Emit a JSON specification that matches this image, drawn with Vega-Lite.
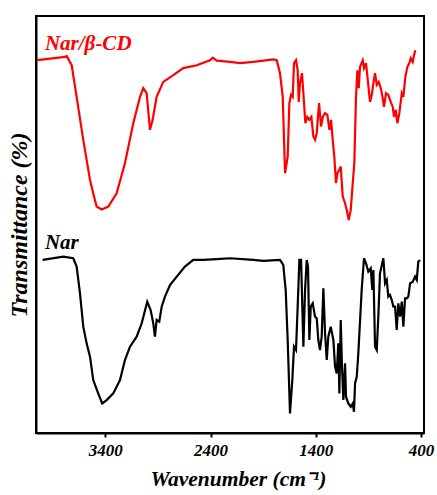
{
  "$schema": "https://vega.github.io/schema/vega-lite/v6.json",
  "width": 388,
  "height": 417,
  "autosize": {"type": "none"},
  "padding": {"left": 36, "top": 16, "right": 13, "bottom": 62},
  "background": "white",
  "config": {
    "view": {"stroke": "black", "strokeWidth": 2},
    "font": "Liberation Serif"
  },
  "datasets": {
    "spectra": [
      {"s":"Nar/β-CD","wn":4046,"t":89.4},{"s":"Nar/β-CD","wn":3783,"t":90.2},{"s":"Nar/β-CD","wn":3767,"t":90.4},{"s":"Nar/β-CD","wn":3719,"t":88.2},{"s":"Nar/β-CD","wn":3672,"t":80.6},{"s":"Nar/β-CD","wn":3609,"t":70.3},{"s":"Nar/β-CD","wn":3545,"t":60.7},{"s":"Nar/β-CD","wn":3510,"t":57.0},{"s":"Nar/β-CD","wn":3482,"t":54.3},{"s":"Nar/β-CD","wn":3434,"t":53.6},{"s":"Nar/β-CD","wn":3371,"t":54.3},{"s":"Nar/β-CD","wn":3292,"t":57.5},{"s":"Nar/β-CD","wn":3213,"t":64.7},{"s":"Nar/β-CD","wn":3134,"t":74.3},{"s":"Nar/β-CD","wn":3070,"t":80.6},{"s":"Nar/β-CD","wn":3039,"t":82.7},{"s":"Nar/β-CD","wn":3007,"t":81.5},{"s":"Nar/β-CD","wn":2975,"t":72.7},{"s":"Nar/β-CD","wn":2950,"t":75.1},{"s":"Nar/β-CD","wn":2912,"t":80.6},{"s":"Nar/β-CD","wn":2849,"t":84.2},{"s":"Nar/β-CD","wn":2754,"t":85.8},{"s":"Nar/β-CD","wn":2659,"t":87.5},{"s":"Nar/β-CD","wn":2531,"t":88.2},{"s":"Nar/β-CD","wn":2405,"t":89.4},{"s":"Nar/β-CD","wn":2379,"t":90.0},{"s":"Nar/β-CD","wn":2341,"t":89.3},{"s":"Nar/β-CD","wn":2215,"t":89.0},{"s":"Nar/β-CD","wn":2120,"t":88.7},{"s":"Nar/β-CD","wn":1994,"t":89.0},{"s":"Nar/β-CD","wn":1803,"t":89.6},{"s":"Nar/β-CD","wn":1771,"t":89.4},{"s":"Nar/β-CD","wn":1740,"t":86.3},{"s":"Nar/β-CD","wn":1714,"t":80.6},{"s":"Nar/β-CD","wn":1702,"t":70.3},{"s":"Nar/β-CD","wn":1692,"t":62.3},{"s":"Nar/β-CD","wn":1667,"t":66.3},{"s":"Nar/β-CD","wn":1651,"t":79.1},{"s":"Nar/β-CD","wn":1635,"t":81.1},{"s":"Nar/β-CD","wn":1619,"t":80.6},{"s":"Nar/β-CD","wn":1607,"t":88.7},{"s":"Nar/β-CD","wn":1588,"t":89.4},{"s":"Nar/β-CD","wn":1572,"t":87.0},{"s":"Nar/β-CD","wn":1562,"t":79.4},{"s":"Nar/β-CD","wn":1550,"t":83.9},{"s":"Nar/β-CD","wn":1531,"t":86.3},{"s":"Nar/β-CD","wn":1518,"t":81.5},{"s":"Nar/β-CD","wn":1499,"t":74.3},{"s":"Nar/β-CD","wn":1480,"t":75.8},{"s":"Nar/β-CD","wn":1461,"t":75.1},{"s":"Nar/β-CD","wn":1442,"t":75.8},{"s":"Nar/β-CD","wn":1423,"t":71.1},{"s":"Nar/β-CD","wn":1407,"t":70.3},{"s":"Nar/β-CD","wn":1391,"t":71.9},{"s":"Nar/β-CD","wn":1369,"t":79.1},{"s":"Nar/β-CD","wn":1350,"t":73.5},{"s":"Nar/β-CD","wn":1334,"t":75.8},{"s":"Nar/β-CD","wn":1312,"t":76.7},{"s":"Nar/β-CD","wn":1290,"t":76.3},{"s":"Nar/β-CD","wn":1271,"t":72.7},{"s":"Nar/β-CD","wn":1255,"t":75.1},{"s":"Nar/β-CD","wn":1239,"t":70.3},{"s":"Nar/β-CD","wn":1224,"t":66.3},{"s":"Nar/β-CD","wn":1208,"t":59.9},{"s":"Nar/β-CD","wn":1195,"t":62.3},{"s":"Nar/β-CD","wn":1176,"t":63.1},{"s":"Nar/β-CD","wn":1163,"t":63.9},{"s":"Nar/β-CD","wn":1144,"t":56.7},{"s":"Nar/β-CD","wn":1122,"t":55.1},{"s":"Nar/β-CD","wn":1106,"t":53.5},{"s":"Nar/β-CD","wn":1087,"t":51.1},{"s":"Nar/β-CD","wn":1068,"t":53.5},{"s":"Nar/β-CD","wn":1049,"t":59.9},{"s":"Nar/β-CD","wn":1034,"t":64.7},{"s":"Nar/β-CD","wn":1018,"t":80.6},{"s":"Nar/β-CD","wn":1005,"t":87.0},{"s":"Nar/β-CD","wn":992,"t":82.7},{"s":"Nar/β-CD","wn":980,"t":87.8},{"s":"Nar/β-CD","wn":954,"t":89.4},{"s":"Nar/β-CD","wn":942,"t":87.5},{"s":"Nar/β-CD","wn":923,"t":88.7},{"s":"Nar/β-CD","wn":906,"t":84.6},{"s":"Nar/β-CD","wn":885,"t":79.4},{"s":"Nar/β-CD","wn":868,"t":81.1},{"s":"Nar/β-CD","wn":853,"t":83.9},{"s":"Nar/β-CD","wn":837,"t":86.3},{"s":"Nar/β-CD","wn":821,"t":83.5},{"s":"Nar/β-CD","wn":802,"t":84.2},{"s":"Nar/β-CD","wn":783,"t":82.7},{"s":"Nar/β-CD","wn":764,"t":80.3},{"s":"Nar/β-CD","wn":752,"t":78.2},{"s":"Nar/β-CD","wn":733,"t":81.5},{"s":"Nar/β-CD","wn":711,"t":81.1},{"s":"Nar/β-CD","wn":688,"t":79.4},{"s":"Nar/β-CD","wn":669,"t":78.2},{"s":"Nar/β-CD","wn":657,"t":75.8},{"s":"Nar/β-CD","wn":640,"t":77.5},{"s":"Nar/β-CD","wn":625,"t":74.3},{"s":"Nar/β-CD","wn":606,"t":76.7},{"s":"Nar/β-CD","wn":583,"t":81.5},{"s":"Nar/β-CD","wn":568,"t":80.6},{"s":"Nar/β-CD","wn":549,"t":85.4},{"s":"Nar/β-CD","wn":530,"t":87.8},{"s":"Nar/β-CD","wn":511,"t":88.7},{"s":"Nar/β-CD","wn":498,"t":89.9},{"s":"Nar/β-CD","wn":479,"t":89.0},{"s":"Nar/β-CD","wn":467,"t":90.6},{"s":"Nar/β-CD","wn":454,"t":91.8},
      {"s":"Nar","wn":3995,"t":41.5},{"s":"Nar","wn":3799,"t":42.3},{"s":"Nar","wn":3704,"t":41.9},{"s":"Nar","wn":3672,"t":39.9},{"s":"Nar","wn":3640,"t":33.5},{"s":"Nar","wn":3609,"t":25.5},{"s":"Nar","wn":3577,"t":21.5},{"s":"Nar","wn":3545,"t":18.3},{"s":"Nar","wn":3514,"t":12.7},{"s":"Nar","wn":3467,"t":9.5},{"s":"Nar","wn":3429,"t":7.1},{"s":"Nar","wn":3387,"t":7.9},{"s":"Nar","wn":3324,"t":9.5},{"s":"Nar","wn":3260,"t":12.7},{"s":"Nar","wn":3213,"t":17.5},{"s":"Nar","wn":3165,"t":20.7},{"s":"Nar","wn":3102,"t":23.1},{"s":"Nar","wn":3054,"t":26.3},{"s":"Nar","wn":3001,"t":31.5},{"s":"Nar","wn":2969,"t":29.5},{"s":"Nar","wn":2944,"t":26.3},{"s":"Nar","wn":2928,"t":23.1},{"s":"Nar","wn":2912,"t":27.1},{"s":"Nar","wn":2887,"t":26.7},{"s":"Nar","wn":2864,"t":30.3},{"s":"Nar","wn":2833,"t":32.7},{"s":"Nar","wn":2785,"t":35.5},{"s":"Nar","wn":2721,"t":37.5},{"s":"Nar","wn":2643,"t":39.9},{"s":"Nar","wn":2564,"t":41.5},{"s":"Nar","wn":2469,"t":41.5},{"s":"Nar","wn":2341,"t":41.7},{"s":"Nar","wn":2215,"t":41.9},{"s":"Nar","wn":1994,"t":41.5},{"s":"Nar","wn":1899,"t":41.3},{"s":"Nar","wn":1740,"t":41.5},{"s":"Nar","wn":1709,"t":40.3},{"s":"Nar","wn":1686,"t":34.3},{"s":"Nar","wn":1667,"t":22.3},{"s":"Nar","wn":1645,"t":4.7},{"s":"Nar","wn":1623,"t":12.7},{"s":"Nar","wn":1607,"t":20.7},{"s":"Nar","wn":1588,"t":19.9},{"s":"Nar","wn":1572,"t":30.3},{"s":"Nar","wn":1556,"t":41.5},{"s":"Nar","wn":1540,"t":41.5},{"s":"Nar","wn":1528,"t":30.3},{"s":"Nar","wn":1518,"t":20.7},{"s":"Nar","wn":1502,"t":34.3},{"s":"Nar","wn":1486,"t":41.5},{"s":"Nar","wn":1474,"t":39.9},{"s":"Nar","wn":1461,"t":22.3},{"s":"Nar","wn":1448,"t":30.3},{"s":"Nar","wn":1429,"t":31.1},{"s":"Nar","wn":1407,"t":27.9},{"s":"Nar","wn":1391,"t":27.5},{"s":"Nar","wn":1376,"t":22.3},{"s":"Nar","wn":1360,"t":19.9},{"s":"Nar","wn":1344,"t":23.1},{"s":"Nar","wn":1328,"t":34.7},{"s":"Nar","wn":1312,"t":23.9},{"s":"Nar","wn":1296,"t":17.5},{"s":"Nar","wn":1281,"t":23.1},{"s":"Nar","wn":1258,"t":25.5},{"s":"Nar","wn":1233,"t":22.3},{"s":"Nar","wn":1217,"t":15.9},{"s":"Nar","wn":1201,"t":14.3},{"s":"Nar","wn":1186,"t":21.5},{"s":"Nar","wn":1176,"t":9.5},{"s":"Nar","wn":1163,"t":27.1},{"s":"Nar","wn":1151,"t":15.9},{"s":"Nar","wn":1138,"t":7.9},{"s":"Nar","wn":1122,"t":16.7},{"s":"Nar","wn":1113,"t":8.7},{"s":"Nar","wn":1091,"t":7.1},{"s":"Nar","wn":1068,"t":6.3},{"s":"Nar","wn":1049,"t":7.1},{"s":"Nar","wn":1037,"t":5.1},{"s":"Nar","wn":1027,"t":11.9},{"s":"Nar","wn":1011,"t":13.5},{"s":"Nar","wn":996,"t":19.1},{"s":"Nar","wn":964,"t":34.3},{"s":"Nar","wn":942,"t":41.9},{"s":"Nar","wn":923,"t":40.7},{"s":"Nar","wn":901,"t":38.7},{"s":"Nar","wn":878,"t":39.5},{"s":"Nar","wn":863,"t":34.3},{"s":"Nar","wn":853,"t":39.1},{"s":"Nar","wn":837,"t":20.7},{"s":"Nar","wn":821,"t":19.9},{"s":"Nar","wn":806,"t":27.9},{"s":"Nar","wn":790,"t":38.3},{"s":"Nar","wn":758,"t":41.9},{"s":"Nar","wn":742,"t":35.9},{"s":"Nar","wn":726,"t":36.7},{"s":"Nar","wn":711,"t":32.7},{"s":"Nar","wn":695,"t":33.1},{"s":"Nar","wn":678,"t":31.9},{"s":"Nar","wn":663,"t":30.3},{"s":"Nar","wn":647,"t":30.3},{"s":"Nar","wn":631,"t":24.7},{"s":"Nar","wn":616,"t":31.1},{"s":"Nar","wn":599,"t":27.9},{"s":"Nar","wn":583,"t":31.5},{"s":"Nar","wn":568,"t":25.5},{"s":"Nar","wn":552,"t":32.3},{"s":"Nar","wn":536,"t":32.3},{"s":"Nar","wn":521,"t":32.7},{"s":"Nar","wn":504,"t":35.9},{"s":"Nar","wn":479,"t":36.3},{"s":"Nar","wn":457,"t":37.5},{"s":"Nar","wn":441,"t":36.7},{"s":"Nar","wn":426,"t":41.1},{"s":"Nar","wn":410,"t":41.5}
    ],
    "labels": [
      {"s":"Nar/β-CD","wn":3973,"t":93.3},
      {"s":"Nar","wn":3973,"t":45.6}
    ]
  },
  "encoding": {
    "x": {
      "field": "wn", "type": "quantitative",
      "scale": {"domain": [4058, 372], "nice": false, "zero": false},
      "axis": {
        "title": "Wavenumber (cm⁻¹)",
        "values": [3400, 2400, 1400, 400],
        "format": "d",
        "grid": false,
        "domainColor": "black", "domainWidth": 2,
        "tickColor": "black", "tickWidth": 2, "tickSize": 4,
        "labelFont": "Liberation Serif", "labelFontSize": 17, "labelFontStyle": "italic", "labelFontWeight": "bold", "labelColor": "black", "labelPadding": 5,
        "titleFont": "Liberation Serif", "titleFontSize": 21.5, "titleFontStyle": "italic", "titleFontWeight": "bold", "titleColor": "black", "titlePadding": 10, "titleX": 202
      }
    },
    "y": {
      "field": "t", "type": "quantitative",
      "scale": {"domain": [0, 100], "nice": false},
      "axis": {
        "title": "Transmittance (%)",
        "labels": false, "ticks": false, "grid": false,
        "domainColor": "black", "domainWidth": 2,
        "titleFont": "Liberation Serif", "titleFontSize": 24, "titleFontStyle": "italic", "titleFontWeight": "bold", "titleColor": "black", "titlePadding": 5
      }
    },
    "color": {
      "field": "s", "type": "nominal",
      "scale": {"domain": ["Nar/β-CD", "Nar"], "range": ["#ff0000", "#000000"]},
      "legend": null
    }
  },
  "layer": [
    {
      "data": {"name": "spectra"},
      "mark": {"type": "line", "strokeWidth": 2.2, "clip": true},
      "encoding": {"detail": {"field": "s"}}
    },
    {
      "data": {"name": "labels"},
      "mark": {"type": "text", "align": "left", "baseline": "middle", "font": "Liberation Serif", "fontSize": 21, "fontStyle": "italic", "fontWeight": "bold"},
      "encoding": {"text": {"field": "s"}}
    }
  ]
}
